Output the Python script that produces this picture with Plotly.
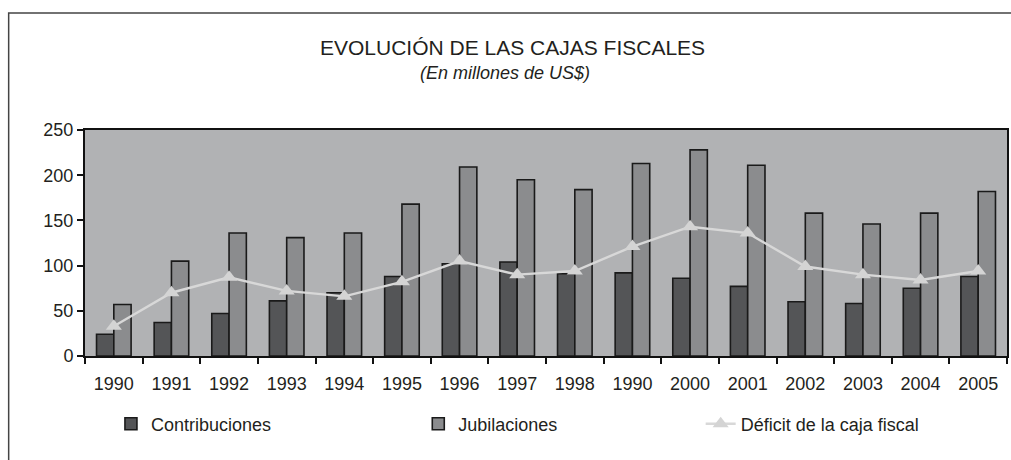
import plotly.graph_objects as go

years = ["1990", "1991", "1992", "1993", "1994", "1995", "1996", "1997",
         "1998", "1990", "2000", "2001", "2002", "2003", "2004", "2005"]
contribuciones = [24, 37, 47, 61, 70, 88, 102, 104, 91, 92, 86, 77, 60, 58, 75, 88]
jubilaciones = [57, 105, 136, 131, 136, 168, 209, 195, 184, 213, 228, 211, 158, 146, 158, 182]
deficit = [33, 70, 87, 72, 66, 82, 105, 90, 94, 121, 143, 136, 99, 90, 84, 94]

title_text = "EVOLUCIÓN DE LAS CAJAS FISCALES"
subtitle_text = "(En millones de US$)"

xpos = list(range(len(years)))
FONT = "Liberation Sans, Arial, sans-serif"
TXT = "#231f20"

FIG_W, FIG_H = 1011, 460
PLOT_L, PLOT_R, PLOT_T, PLOT_B = 85, 1009, 130, 356
W = PLOT_R - PLOT_L
H = PLOT_B - PLOT_T


def lx(px):
    return (px - PLOT_L) / W


def ly(py):
    return (PLOT_B - py) / H


fig = go.Figure()
fig.add_trace(go.Bar(
    x=xpos, y=contribuciones, name="Contribuciones",
    marker=dict(color="#545557", line=dict(color="#1a1a1a", width=1.6)),
    legend="legend", showlegend=True,
))
fig.add_trace(go.Bar(
    x=xpos, y=jubilaciones, name="Jubilaciones",
    marker=dict(color="#8b8c8e", line=dict(color="#1a1a1a", width=1.6)),
    legend="legend2", showlegend=True,
))
fig.add_trace(go.Scatter(
    x=xpos, y=deficit, name="Déficit de la caja fiscal", mode="lines+markers",
    line=dict(color="#d8d8d8", width=2.4),
    marker=dict(symbol="triangle-up", size=14, color="#d4d4d4"),
    legend="legend3", showlegend=True,
))

leg_common = dict(orientation="h", yanchor="middle", xanchor="left",
                  font=dict(family=FONT, size=18, color=TXT),
                  bgcolor="rgba(0,0,0,0)", borderwidth=0)

fig.update_layout(
    width=FIG_W, height=FIG_H,
    margin=dict(l=PLOT_L, r=FIG_W - PLOT_R, t=PLOT_T, b=FIG_H - PLOT_B, pad=0),
    paper_bgcolor="white",
    plot_bgcolor="#b1b2b4",
    showlegend=True,
    barmode="group",
    bargap=0.4,
    bargroupgap=0,
    font=dict(family=FONT, size=18, color=TXT),
    legend=dict(x=lx(111), y=ly(424), **leg_common),
    legend2=dict(x=lx(419), y=ly(424), **leg_common),
    legend3=dict(x=lx(702), y=ly(424), **leg_common),
    xaxis=dict(
        range=[-0.5, len(years) - 0.5],
        tickmode="array", tickvals=xpos, ticktext=years,
        ticks="", showgrid=False, zeroline=False,
        showline=True, linecolor="#111111", linewidth=2, mirror=True,
        tickfont=dict(family=FONT, size=18, color=TXT),
        ticklabelstandoff=10,
        minor=dict(tickmode="array", tickvals=[i - 0.5 for i in range(len(years) + 1)],
                   ticks="outside", ticklen=6, tickcolor="#111111", tickwidth=1.5,
                   showgrid=False),
        fixedrange=True,
    ),
    yaxis=dict(
        range=[0, 250], tickmode="linear", tick0=0, dtick=50,
        ticks="outside", ticklen=6, tickcolor="#111111", tickwidth=1.5,
        showgrid=False, zeroline=False,
        showline=True, linecolor="#111111", linewidth=2, mirror=True,
        tickfont=dict(family=FONT, size=18, color=TXT),
        fixedrange=True,
    ),
    annotations=[
        dict(text=title_text, xref="paper", yref="paper", x=lx(513), y=ly(47),
             xanchor="center", yanchor="middle", showarrow=False,
             font=dict(family=FONT, size=21, color=TXT)),
        dict(text="<i>" + subtitle_text + "</i>", xref="paper", yref="paper",
             x=lx(506), y=ly(73), xanchor="center", yanchor="middle", showarrow=False,
             font=dict(family=FONT, size=18, color=TXT)),
    ],
    shapes=[dict(type="rect", xref="paper", yref="paper",
                 x0=lx(8.5), x1=lx(1030), y0=ly(480), y1=ly(13),
                 line=dict(color="#444444", width=1.5), fillcolor="rgba(0,0,0,0)",
                 layer="below")],
)

fig.write_html(
    "out.html",
    config={"displayModeBar": False, "staticPlot": False},
    post_script="document.body.style.margin='0';document.body.style.overflow='hidden';",
)
